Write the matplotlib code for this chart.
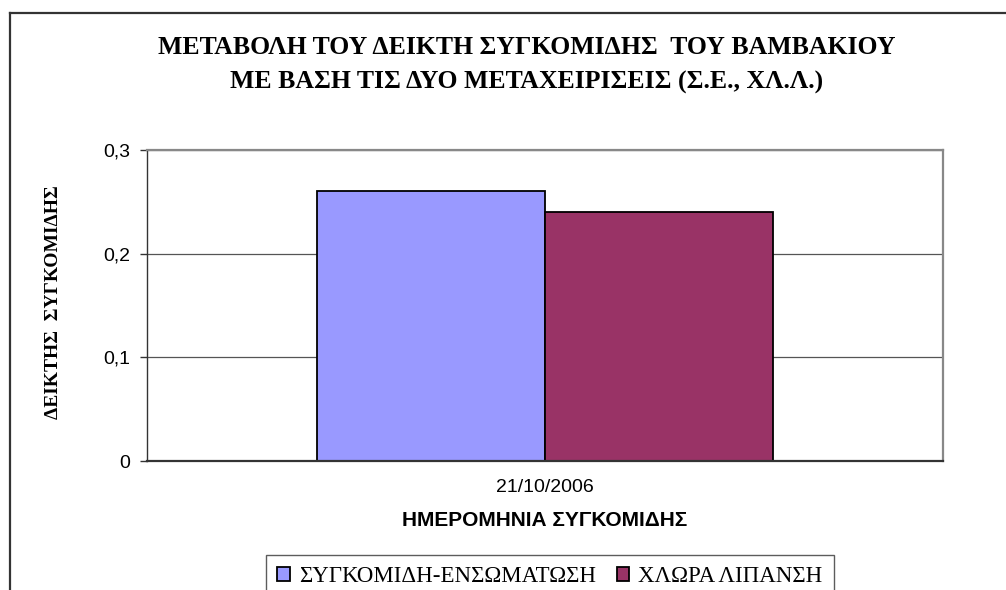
import matplotlib
matplotlib.use("Agg")
import matplotlib.pyplot as plt
from matplotlib.lines import Line2D

# data
categories = ["21/10/2006"]
series_names = ["ΣΥΓΚΟΜΙΔΗ-ΕΝΣΩΜΑΤΩΣΗ", "ΧΛΩΡΑ ΛΙΠΑΝΣΗ"]
series_values = [[0.26], [0.24]]
series_colors = ["#9999FF", "#993366"]
yticks = [0, 0.1, 0.2, 0.3]
ytick_labels = ["0", "0,1", "0,2", "0,3"]

W, H = 1006, 590
fig = plt.figure(figsize=(W / 100, H / 100), dpi=100)

# chart area frame (only top and left edges are visible in the crop)
fig.add_artist(Line2D([10 / W, 1.0], [1 - 13 / H, 1 - 13 / H], color="#333333", lw=1.6))
fig.add_artist(Line2D([10 / W, 10 / W], [0, 1 - 13 / H], color="#333333", lw=1.6))

ax = fig.add_axes([147 / W, 1 - 461 / H, 796 / W, 311 / H])

bar_w = 0.286
offsets = [-0.143, 0.143]
for i, name in enumerate(series_names):
    xs = [k + offsets[i] for k in range(len(categories))]
    ax.bar(xs, series_values[i], width=bar_w, color=series_colors[i],
           edgecolor="black", linewidth=1.3, label=name, zorder=3)

ax.set_xlim(-0.5, len(categories) - 0.5)
ax.set_ylim(0, 0.3)
ax.set_yticks(yticks)
ax.set_yticklabels(ytick_labels, family="Liberation Sans", fontsize=14)
ax.set_xticks(range(len(categories)))
ax.set_xticklabels(categories, family="Liberation Sans", fontsize=14)
ax.tick_params(axis="x", length=0, pad=13)
ax.tick_params(axis="y", length=5, width=1, color="#333333", pad=7)

for y in yticks[1:]:
    ax.axhline(y, color="#555555", lw=0.9, zorder=1)

for side in ["top", "right"]:
    ax.spines[side].set_color("#888888")
    ax.spines[side].set_linewidth(1.6)
ax.spines["left"].set_color("#333333")
ax.spines["left"].set_linewidth(1.0)
ax.spines["bottom"].set_color("#333333")
ax.spines["bottom"].set_linewidth(1.6)
ax.spines["bottom"].set_zorder(4)

ax.set_xlabel("ΗΜΕΡΟΜΗΝΙΑ ΣΥΓΚΟΜΙΔΗΣ", family="Liberation Sans",
              fontweight="bold", fontsize=15, labelpad=11)
fig.text(54 / W, 1 - 302 / H, "ΔΕΙΚΤΗΣ  ΣΥΓΚΟΜΙΔΗΣ", rotation=90,
         ha="center", va="center", family="Liberation Serif",
         fontweight="bold", fontsize=14)

fig.text(527 / W, 1 - 47 / H, "ΜΕΤΑΒΟΛΗ ΤΟΥ ΔΕΙΚΤΗ ΣΥΓΚΟΜΙΔΗΣ  ΤΟΥ ΒΑΜΒΑΚΙΟΥ",
         ha="center", va="center", family="Liberation Serif",
         fontweight="bold", fontsize=18.5)
fig.text(527 / W, 1 - 82 / H, "ΜΕ ΒΑΣΗ ΤΙΣ ΔΥΟ ΜΕΤΑΧΕΙΡΙΣΕΙΣ (Σ.Ε., ΧΛ.Λ.)",
         ha="center", va="center", family="Liberation Serif",
         fontweight="bold", fontsize=18.5)

leg = fig.legend(loc="upper center", bbox_to_anchor=(550 / W, 1 - 555 / H),
                 ncol=2, frameon=True, fancybox=False, edgecolor="#333333",
                 prop={"family": "Liberation Serif", "size": 16.5},
                 handlelength=0.55, handleheight=0.55, handletextpad=0.4,
                 columnspacing=0.9, borderpad=0.5, borderaxespad=0)
leg.get_frame().set_linewidth(1.0)

fig.savefig("out.png", dpi=100)
